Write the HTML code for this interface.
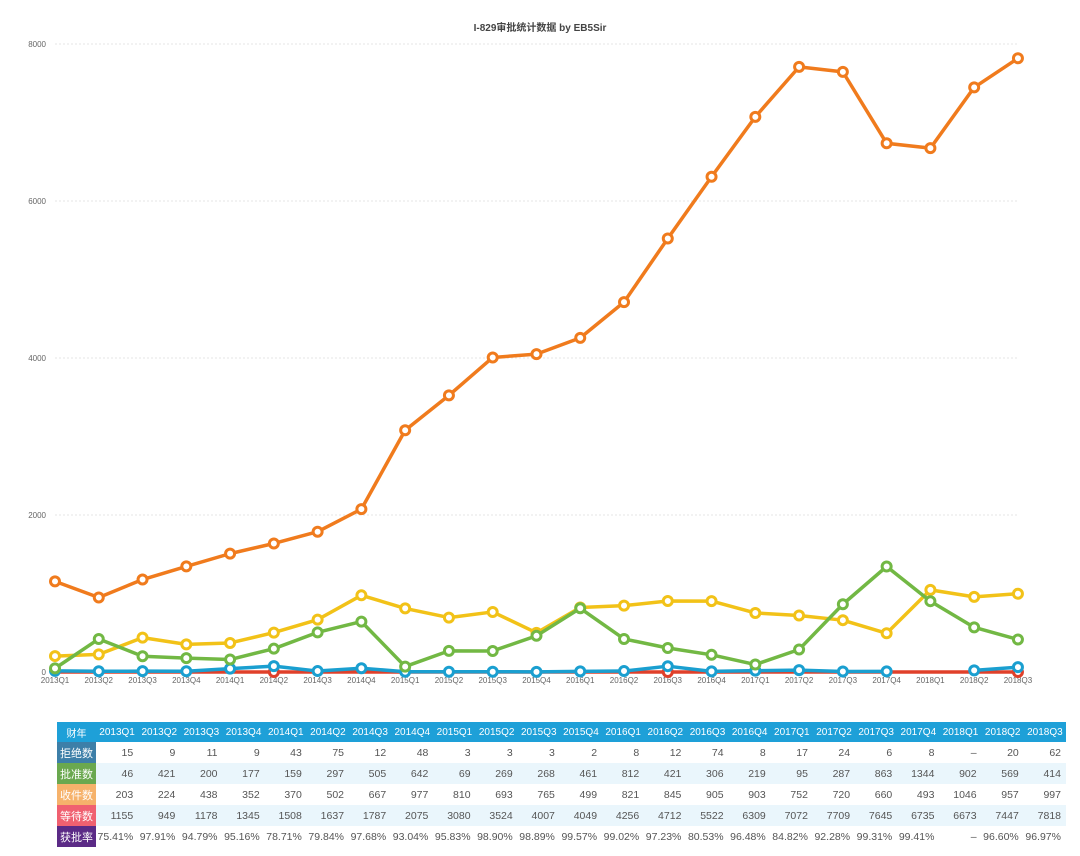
<!DOCTYPE html>
<html><head><meta charset="utf-8">
<style>
body{margin:0;background:#fff;width:1080px;height:856px;overflow:hidden;font-family:"Liberation Sans","Noto Sans CJK SC",sans-serif;}
svg{position:absolute;left:0;top:0}
table{position:absolute;left:57px;top:722px;width:1009px;table-layout:fixed;border-collapse:collapse;font-size:10.5px;color:#555;white-space:nowrap}
td{height:21px;padding:0 5px 0 0;text-align:right;overflow:hidden}
tr.h td{background:#1ea0d8;color:#fff;height:20px;text-align:center;padding:0;font-size:10px}
tr.alt td{background:#eaf6fc}
td.l{text-align:center;color:#fff;padding:0;font-size:11px}
</style></head><body>
<svg id="c" width="1080" height="715" xmlns="http://www.w3.org/2000/svg"></svg>
<table id="t"><colgroup><col style="width:39px"></colgroup></table>
<script>
const X=i=>55+i*43.77, Y=v=>672-v*0.0785;
const q=[];for(let y=2013;y<=2018;y++)for(let k=1;k<=4;k++)q.push(y+"Q"+k);q.length=23;
let s='<text x="540" y="31" text-anchor="middle" font-size="10" font-weight="bold" fill="#444">I-829审批统计数据 by EB5Sir</text>';
for(const v of [2000,4000,6000,8000]){s+=`<line x1="55" x2="1018" y1="${Y(v)}" y2="${Y(v)}" stroke="#e4e4e4" stroke-dasharray="2,2"/>`;}
for(const v of [0,2000,4000,6000,8000])s+=`<text x="46" y="${Y(v)+3}" text-anchor="end" font-size="8" fill="#666">${v}</text>`;
s+=`<line x1="55" x2="1018" y1="672" y2="672" stroke="#ccc"/>`;
q.forEach((l,i)=>s+=`<text x="${X(i)}" y="683" text-anchor="middle" font-size="8" fill="#666">${l}</text>`);
const ser=[
["#e0402a",Array(23).fill(0),[5,14,22]],
["#1a9fd0",[15,9,11,9,43,75,12,48,3,3,3,2,8,12,74,8,17,24,6,8,null,20,62]],
["#f2c218",[203,224,438,352,370,502,667,977,810,693,765,499,821,845,905,903,752,720,660,493,1046,957,997]],
["#72b844",[46,421,200,177,159,297,505,642,69,269,268,461,812,421,306,219,95,287,863,1344,902,569,414]],
["#f07b1d",[1155,949,1178,1345,1508,1637,1787,2075,3080,3524,4007,4049,4256,4712,5522,6309,7072,7709,7645,6735,6673,7447,7818]]];
for(const [c,d,m] of ser){let p='',segs=[];d.forEach((v,i)=>{if(v===null){if(p)segs.push(p);p='';}else p+=(p?'L':'M')+X(i)+','+Y(v);});if(p)segs.push(p);
segs.forEach(g=>s+=`<path d="${g}" fill="none" stroke="${c}" stroke-width="3.5" stroke-linejoin="round"/>`);
d.forEach((v,i)=>{if(v!==null&&(!m||m.includes(i)))s+=`<circle cx="${X(i)}" cy="${Y(v)}" r="4.5" fill="#fff" stroke="${c}" stroke-width="3"/>`;});}
document.getElementById('c').innerHTML=s;
const rows=[["拒绝数","#3d7fa8",[15,9,11,9,43,75,12,48,3,3,3,2,8,12,74,8,17,24,6,8,"–",20,62]],
["批准数","#6aa84f",[46,421,200,177,159,297,505,642,69,269,268,461,812,421,306,219,95,287,863,1344,902,569,414]],
["收件数","#f6b26b",[203,224,438,352,370,502,667,977,810,693,765,499,821,845,905,903,752,720,660,493,1046,957,997]],
["等待数","#f06070",[1155,949,1178,1345,1508,1637,1787,2075,3080,3524,4007,4049,4256,4712,5522,6309,7072,7709,7645,6735,6673,7447,7818]],
["获批率","#5b2a86","75.41% 97.91% 94.79% 95.16% 78.71% 79.84% 97.68% 93.04% 95.83% 98.90% 98.89% 99.57% 99.02% 97.23% 80.53% 96.48% 84.82% 92.28% 99.31% 99.41% – 96.60% 96.97%".split(" ")]];
let h='<colgroup><col style="width:39px"></colgroup><tr class="h"><td class="l">财年</td>'+q.map(x=>`<td>${x}</td>`).join('')+'</tr>';
rows.forEach((r,i)=>{h+=`<tr class="${i%2?'alt':''}"><td class="l" style="background:${r[1]}">${r[0]}</td>`+r[2].map(v=>`<td>${v}</td>`).join('')+'</tr>';});
document.getElementById('t').innerHTML=h;
</script>
</body></html>
